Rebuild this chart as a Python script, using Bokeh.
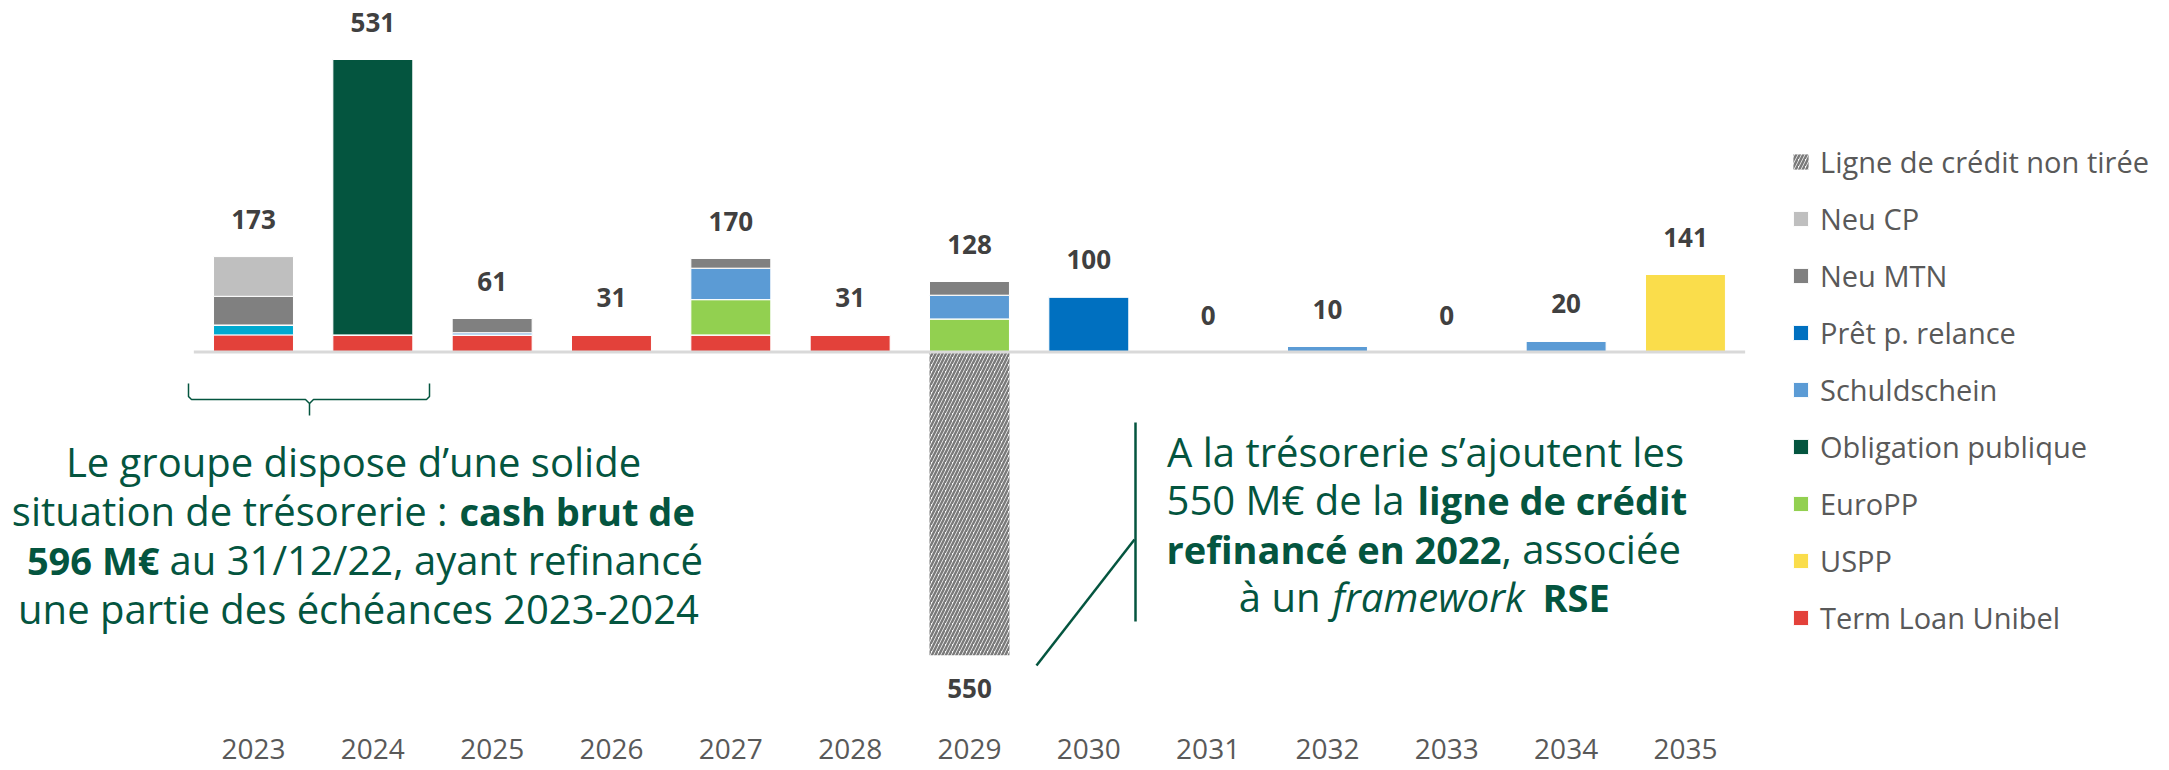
from bokeh.plotting import figure
from bokeh.models import (Range1d, LinearAxis, FixedTicker, Legend, LegendItem,
                          Label, LabelSet, ColumnDataSource)
from bokeh.core.properties import value
from bokeh.embed import file_html
from bokeh.resources import INLINE

# ---------------- data ----------------
years = [2023, 2024, 2025, 2026, 2027, 2028, 2029, 2030, 2031, 2032, 2033, 2034, 2035]
term_loan_unibel = [31, 31, 31, 31, 31, 31, 0, 0, 0, 0, 0, 0, 0]
autres = [18, 0, 0, 0, 0, 0, 0, 0, 0, 0, 0, 0, 0]
uspp = [0, 0, 0, 0, 0, 0, 0, 0, 0, 0, 0, 0, 141]
europp = [0, 0, 0, 0, 64, 0, 60, 0, 0, 0, 0, 0, 0]
obligation_publique = [0, 500, 0, 0, 0, 0, 0, 0, 0, 0, 0, 0, 0]
schuldschein = [0, 0, 4, 0, 57, 0, 43, 0, 0, 10, 0, 20, 0]
pret_relance = [0, 0, 0, 0, 0, 0, 0, 100, 0, 0, 0, 0, 0]
neu_mtn = [52, 0, 26, 0, 18, 0, 25, 0, 0, 0, 0, 0, 0]
neu_cp = [72, 0, 0, 0, 0, 0, 0, 0, 0, 0, 0, 0, 0]
ligne_credit_non_tiree = [0, 0, 0, 0, 0, 0, 550, 0, 0, 0, 0, 0, 0]

series_names = ["Term Loan Unibel", "Autres", "USPP", "EuroPP", "Obligation publique",
                "Schuldschein", "Prêt p. relance", "Neu MTN", "Neu CP"]
series_values = [term_loan_unibel, autres, uspp, europp, obligation_publique,
                 schuldschein, pret_relance, neu_mtn, neu_cp]
series_colors = ["#E3413A", "#00A9CF", "#FADD4B", "#92D050", "#04553F",
                 "#5B9BD5", "#0070C0", "#808080", "#BFBFBF"]

# ---------------- page geometry ----------------
W, H = 2169, 770
X_FIRST, X_STEP = 253.0, 119.33     # px of first category, px per category
Y_BASE, Y_UNIT = 351.5, 0.5515      # px of zero, px per unit


def dx(px):
    return (px - X_FIRST) / X_STEP


def dy(py):
    return (Y_BASE - py) / Y_UNIT


GREEN = "#04553F"
n = len(years)
xs = list(range(n))
keys = ["s%d" % i for i in range(len(series_names))]
data = dict(x=xs)
for k, v in zip(keys, series_values):
    data[k] = v
totals = [sum(vals) for vals in zip(*series_values)]
data["total"] = totals
data["total_txt"] = [str(t) for t in totals]
data["neg_ligne"] = [-v for v in ligne_credit_non_tiree]
src = ColumnDataSource(data)

p = figure(width=W, height=H, x_range=Range1d(dx(0), dx(W)),
           y_range=Range1d(dy(H), dy(0)), output_backend="svg",
           toolbar_location=None, x_axis_location=None, y_axis_location=None,
           min_border=0, outline_line_color=None)
for g in p.grid:
    g.visible = False
p.background_fill_color = "white"
p.border_fill_color = "white"

BAR_W = 0.67
stack_r = p.vbar_stack(keys, x="x", width=BAR_W, fill_color=series_colors,
                       line_color="white", line_width=1, source=src)

hatch_r = p.vbar(x="x", top=0, bottom="neg_ligne", width=BAR_W, fill_color="white",
                 line_color=None, hatch_pattern="/", hatch_color="#7A7A7A",
                 hatch_scale=7, hatch_weight=2.5, source=src)

p.line(x=[-0.5, n - 0.5], y=[0, 0], line_color="#D9D9D9", line_width=3)

p.add_layout(LabelSet(x="x", y="total", text="total_txt", y_offset=37, source=src,
                      text_align="center", text_baseline="middle",
                      text_font=value("Open Sans"), text_font_style="bold",
                      text_font_size="26px", text_color="#404040"))

neg_src = ColumnDataSource(dict(
    x=[i for i, v in enumerate(ligne_credit_non_tiree) if v],
    y=[-v for v in ligne_credit_non_tiree if v],
    t=[str(v) for v in ligne_credit_non_tiree if v]))
p.add_layout(LabelSet(x="x", y="y", text="t", y_offset=-33, source=neg_src,
                      text_align="center", text_baseline="middle",
                      text_font=value("Open Sans"), text_font_style="bold",
                      text_font_size="26px", text_color="#404040"))

xa = LinearAxis(ticker=FixedTicker(ticks=xs),
                major_label_overrides={i: str(y) for i, y in enumerate(years)},
                fixed_location=dy(730), axis_line_color=None,
                major_tick_line_color=None, minor_tick_line_color=None,
                major_label_standoff=2, major_label_text_font="Open Sans",
                major_label_text_font_size="28px", major_label_text_color="#595959")
p.add_layout(xa, "below")

# legend
rmap = dict(zip(series_names, stack_r))
order = ["Neu CP", "Neu MTN", "Prêt p. relance", "Schuldschein", "Obligation publique",
         "EuroPP", "USPP", "Term Loan Unibel"]
items = [LegendItem(label="Ligne de crédit non tirée", renderers=[hatch_r])]
items += [LegendItem(label=nm, renderers=[rmap[nm]]) for nm in order]
legend = Legend(items=items, location=(1791, 133), orientation="vertical",
                border_line_color=None, background_fill_alpha=0, padding=0, margin=0,
                spacing=17, glyph_width=19, glyph_height=19, label_height=40,
                label_standoff=10, label_text_font="Open Sans",
                label_text_font_size="29px", label_text_color="#595959")
p.add_layout(legend)


def note(text, px, py, align, style="normal", size="40px"):
    p.add_layout(Label(x=dx(px), y=dy(py), text=text, text_align=align,
                       text_baseline="alphabetic", text_font="Open Sans",
                       text_font_style=style, text_font_size=size, text_color=GREEN))


# left note
note("Le groupe dispose d’une solide", 353, 461, "center")
note("situation de trésorerie :", 447, 510, "right")
note("cash brut de", 459, 510, "left", "bold", "38px")
note("596 M€", 159, 559, "right", "bold", "38px")
note("au 31/12/22, ayant refinancé", 169, 559, "left")
note("une partie des échéances 2023-2024", 358, 608, "center")

# right note
note("A la trésorerie s’ajoutent les", 1425, 451, "center")
note("550 M€ de la", 1404, 499, "right")
note("ligne de crédit", 1417, 499, "left", "bold", "38px")
note("refinancé en 2022", 1501, 548, "right", "bold", "38px")
note(", associée", 1501, 548, "left")
note("à un", 1320, 596, "right")
note("framework", 1332, 596, "left", "italic")
note("RSE", 1542, 596, "left", "bold", "38px")


# bracket and leader lines
def pline(pts, w):
    p.line(x=[dx(a) for a, b in pts], y=[dy(b) for a, b in pts], line_color=GREEN,
           line_width=w)


pline([(188, 383), (188, 396), (191, 399), (305, 399), (309, 403), (309, 415)], 1.5)
pline([(309, 403), (313, 399), (426, 399), (429, 396), (429, 383)], 1.5)
pline([(1135, 422), (1135, 621)], 2.5)
pline([(1134, 539), (1036, 665)], 2.5)

open("out.html", "w").write(file_html(p, INLINE))
